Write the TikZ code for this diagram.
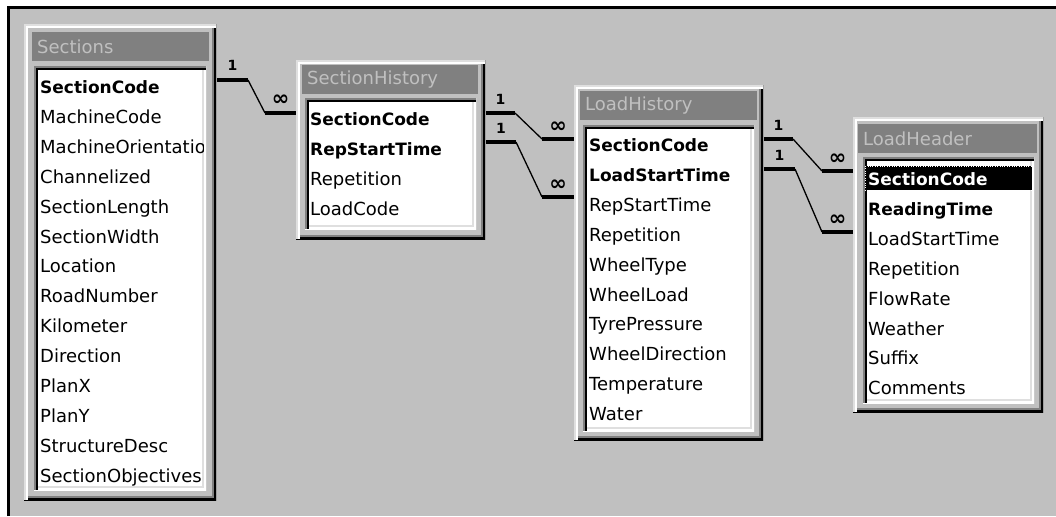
\documentclass[tikz,border=0pt]{standalone}
\usepackage{fontspec}
\setmainfont{DejaVu Sans}
\usetikzlibrary{positioning}
\definecolor{btnface}{HTML}{C0C0C0}
\definecolor{btnshadow}{HTML}{808080}
\definecolor{btnlight}{HTML}{DFDFDF}
\def\ppb{path picture bounding box}
\newcommand{\winbevel}[4]{%
  \draw[#4,line width=8pt] (\ppb.north east) -- (\ppb.south east) -- (\ppb.south west);
  \draw[#3,line width=4pt] (\ppb.north east) -- (\ppb.south east) -- (\ppb.south west);
  \draw[#2,line width=8pt] (\ppb.south west) -- (\ppb.north west) -- (\ppb.north east);
  \draw[#1,line width=4pt] (\ppb.south west) -- (\ppb.north west) -- (\ppb.north east);}
\tikzset{raised/.style={fill=btnface,anchor=north west,inner sep=0pt,path picture={\winbevel{btnlight}{white}{black}{btnshadow}}}}
\tikzset{sunken/.style={fill=white,anchor=north west,inner sep=0pt,path picture={\winbevel{btnshadow}{black}{white}{btnlight}}}}
\tikzset{titlebar/.style={fill=btnshadow,text=btnface,anchor=north west,inner sep=0pt,inner xsep=5pt,minimum height=29pt,align=left,font=\fontsize{18}{20}\selectfont}}
\tikzset{field/.style={anchor=west,inner sep=0pt,text height=13pt,text depth=0pt,font=\fontsize{18}{20}\selectfont}}
\tikzset{keyfield/.style={field,font=\fontsize{17}{20}\selectfont\bfseries}}
\tikzset{nextrow/.style={below=of #1.west,anchor=west}}
\tikzset{thickend/.style={line width=4pt}}
\tikzset{thinlink/.style={line width=1.3pt}}
\tikzset{card/.style={inner sep=0pt,font=\fontsize{14}{14}\selectfont\bfseries}}
\tikzset{crow/.style={card,font=\fontsize{21}{21}\selectfont\bfseries}}

\begin{document}
\begin{tikzpicture}[x=1pt,y=-1pt,node distance=29.9pt]
    \useasboundingbox (0,0) rectangle (1056,516);
    \fill[white] (0,0) rectangle (1056,516);
    \fill[btnface] (8,8) rectangle (1056,516);
    \draw[line width=3pt] (8,516) -- (8,8) -- (1056,8);

    % Sections
    \node[raised,minimum width=192pt,minimum height=476pt] (sec) at (24,24) {};
    \node[titlebar,text width=167pt] (sec-t) at (32,32) {Sections};
    \node[sunken,minimum width=172pt,minimum height=424pt] (sec-l) at (34,66) {};
    \begin{scope}
    \clip (37,69) rectangle (203,487);
    \node[keyfield] (sc1) at (40,87) {SectionCode};
    \node[field,nextrow=sc1] (sc2) {MachineCode};
    \node[field,nextrow=sc2] (sc3) {MachineOrientation};
    \node[field,nextrow=sc3] (sc4) {Channelized};
    \node[field,nextrow=sc4] (sc5) {SectionLength};
    \node[field,nextrow=sc5] (sc6) {SectionWidth};
    \node[field,nextrow=sc6] (sc7) {Location};
    \node[field,nextrow=sc7] (sc8) {RoadNumber};
    \node[field,nextrow=sc8] (sc9) {Kilometer};
    \node[field,nextrow=sc9] (sc10) {Direction};
    \node[field,nextrow=sc10] (sc11) {PlanX};
    \node[field,nextrow=sc11] (sc12) {PlanY};
    \node[field,nextrow=sc12] (sc13) {StructureDesc};
    \node[field,nextrow=sc13] (sc14) {SectionObjectives};
    \end{scope}

    % SectionHistory
    \node[raised,minimum width=189pt,minimum height=179pt] (sech) at (296,60) {};
    \node[titlebar,text width=166pt] (sech-t) at (302,65) {SectionHistory};
    \node[sunken,minimum width=171pt,minimum height=131pt] (sech-l) at (305,98) {};
    \node[keyfield] (sh1) at (310,119) {SectionCode};
    \node[keyfield,nextrow=sh1] (sh2) {RepStartTime};
    \node[field,nextrow=sh2] (sh3) {Repetition};
    \node[field,nextrow=sh3] (sh4) {LoadCode};

    % LoadHistory
    \node[raised,minimum width=189pt,minimum height=355pt] (lhis) at (574,85) {};
    \node[titlebar,text width=167pt] (lhis-t) at (580,91) {LoadHistory};
    \node[sunken,minimum width=171pt,minimum height=306pt] (lhis-l) at (583,125) {};
    \node[keyfield] (lh1) at (589,145) {SectionCode};
    \node[keyfield,nextrow=lh1] (lh2) {LoadStartTime};
    \node[field,nextrow=lh2] (lh3) {RepStartTime};
    \node[field,nextrow=lh3] (lh4) {Repetition};
    \node[field,nextrow=lh4] (lh5) {WheelType};
    \node[field,nextrow=lh5] (lh6) {WheelLoad};
    \node[field,nextrow=lh6] (lh7) {TyrePressure};
    \node[field,nextrow=lh7] (lh8) {WheelDirection};
    \node[field,nextrow=lh8] (lh9) {Temperature};
    \node[field,nextrow=lh9] (lh10) {Water};

    % LoadHeader
    \node[raised,minimum width=190pt,minimum height=295pt] (lhdr) at (853,117) {};
    \node[titlebar,text width=169pt] (lhdr-t) at (858,124) {LoadHeader};
    \node[sunken,minimum width=171pt,minimum height=246pt] (lhdr-l) at (863,157) {};
    \node[anchor=north west,fill=black,draw=white,dotted,inner sep=0pt,minimum width=167pt,minimum height=24pt] (ld-sel) at (865,166) {};
    \node[keyfield,text=white] (ld1) at (868,179) {SectionCode};
    \node[keyfield,nextrow=ld1] (ld2) {ReadingTime};
    \node[field,nextrow=ld2] (ld3) {LoadStartTime};
    \node[field,nextrow=ld3] (ld4) {Repetition};
    \node[field,nextrow=ld4] (ld5) {FlowRate};
    \node[field,nextrow=ld5] (ld6) {Weather};
    \node[field,nextrow=ld6] (ld7) {Suffix};
    \node[field,nextrow=ld7] (ld8) {Comments};

    % relationships
    \coordinate (sc-o) at (217,80);
    \coordinate[right=31pt of sc-o] (sc-k);
    \coordinate (sh-i) at (296,113);
    \coordinate[left=31pt of sh-i] (sh-k);
    \draw[thickend] (sc-o) -- (sc-k) node[card,midway,above=7pt] {1};
    \draw[thinlink] (sc-k) -- (sh-k);
    \draw[thickend] (sh-k) -- (sh-i) node[crow,midway,above=5pt] {∞};

    \coordinate (sh-o1) at (486,113);
    \coordinate[right=29pt of sh-o1] (sh-k1);
    \coordinate (lh-i1) at (574,139);
    \coordinate[left=32pt of lh-i1] (lh-k1);
    \draw[thickend] (sh-o1) -- (sh-k1) node[card,midway,above=7pt] {1};
    \draw[thinlink] (sh-k1) -- (lh-k1);
    \draw[thickend] (lh-k1) -- (lh-i1) node[crow,midway,above=5pt] {∞};

    \coordinate (sh-o2) at (486,142);
    \coordinate[right=30pt of sh-o2] (sh-k2);
    \coordinate (lh-i2) at (574,197);
    \coordinate[left=32pt of lh-i2] (lh-k2);
    \draw[thickend] (sh-o2) -- (sh-k2) node[card,midway,above=7pt] {1};
    \draw[thinlink] (sh-k2) -- (lh-k2);
    \draw[thickend] (lh-k2) -- (lh-i2) node[crow,midway,above=5pt] {∞};

    \coordinate (lh-o1) at (764,139);
    \coordinate[right=29pt of lh-o1] (lh-k3);
    \coordinate (ld-i1) at (853,171);
    \coordinate[left=31pt of ld-i1] (ld-k1);
    \draw[thickend] (lh-o1) -- (lh-k3) node[card,midway,above=7pt] {1};
    \draw[thinlink] (lh-k3) -- (ld-k1);
    \draw[thickend] (ld-k1) -- (ld-i1) node[crow,midway,above=5pt] {∞};

    \coordinate (lh-o2) at (764,169);
    \coordinate[right=31pt of lh-o2] (lh-k4);
    \coordinate (ld-i2) at (853,232);
    \coordinate[left=31pt of ld-i2] (ld-k2);
    \draw[thickend] (lh-o2) -- (lh-k4) node[card,midway,above=7pt] {1};
    \draw[thinlink] (lh-k4) -- (ld-k2);
    \draw[thickend] (ld-k2) -- (ld-i2) node[crow,midway,above=5pt] {∞};
\end{tikzpicture}
\end{document}
